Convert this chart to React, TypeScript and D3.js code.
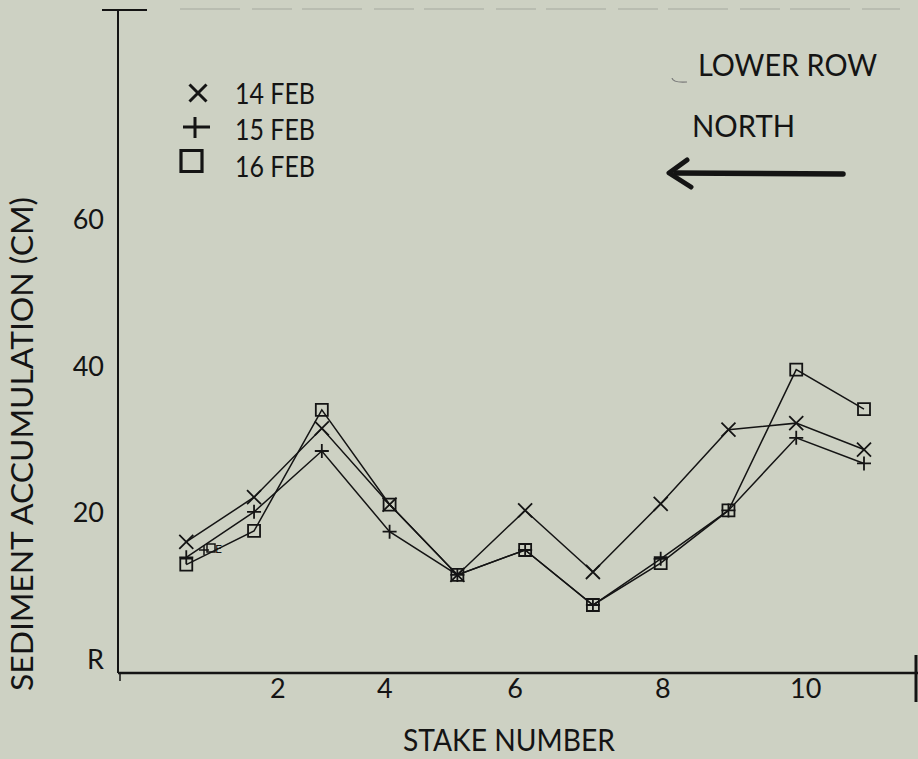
import React from "react";
import * as d3 from "d3";

const stakes = [1, 2, 3, 4, 5, 6, 7, 8, 9, 10, 11];
const feb14 = [16.1, 22.2, 31.6, 21.2, 11.6, 20.4, 12.0, 21.3, 31.4, 32.3, 28.7];
const feb15 = [14.0, 20.2, 28.5, 17.5, 11.6, 15.0, 7.5, 13.8, 20.4, 30.3, 26.8];
const feb16 = [13.0, 17.6, 34.1, 21.2, 11.6, 15.0, 7.5, 13.2, 20.4, 39.6, 34.2];

const xTickLabels = ["2", "4", "6", "8", "10"];
const xTickPositions = [2.35, 3.93, 5.85, 8.03, 10.14];
const yTickValues = [0, 20, 40, 60];
const yTickLabels = ["R", "20", "40", "60"];

const legendLabels = ["14 FEB", "15 FEB", "16 FEB"];
const markerKinds = ["x", "plus", "square"];

const W = 918;
const H = 759;
const BG = "#cdd1c3";
const INK = "#141414";
const FONT = "Lato, 'Open Sans', sans-serif";

function markerPath(kind: string, s: number) {
  if (kind === "x") return `M${-s},${-s}L${s},${s}M${-s},${s}L${s},${-s}`;
  if (kind === "plus") return `M${-s},0L${s},0M0,${-s}L0,${s}`;
  return `M${-s},${-s}H${s}V${s}H${-s}Z`;
}

export default function App() {
  const x = d3.scaleLinear().domain([0, 11]).range([118.5, 864]);
  const y = d3.scaleLinear().domain([0, 60]).range([660, 220]);
  const series = [feb14, feb15, feb16];
  const line = d3
    .line<[number, number]>()
    .x((d) => x(d[0]))
    .y((d) => y(d[1]));

  const axisX = x(0) - 0.5;
  const axisY = 673;

  return (
    <svg
      width={W}
      height={H}
      viewBox={`0 0 ${W} ${H}`}
      style={{ position: "absolute", left: 0, top: 0, display: "block" }}
    >
      <rect x={0} y={0} width={W} height={H} fill={BG} />

      {/* faint scan marks along the top */}
      <line x1={180} x2={900} y1={9} y2={9} stroke="#b9bdb1" strokeWidth={2} strokeDasharray="60 12 40 10" />

      {/* axes */}
      <line x1={axisX} x2={axisX} y1={10} y2={axisY} stroke={INK} strokeWidth={2} />
      <line x1={102} x2={147} y1={10} y2={10} stroke={INK} strokeWidth={2} />
      <line x1={axisX} x2={W} y1={axisY} y2={axisY} stroke={INK} strokeWidth={2.5} />
      <line x1={916} x2={916} y1={655} y2={702} stroke={INK} strokeWidth={3} />
      <line x1={120} x2={120} y1={673} y2={681} stroke={INK} strokeWidth={1.5} />

      {/* y tick labels */}
      {yTickValues.map((v, i) => (
        <text
          key={"yt" + i}
          x={104}
          y={y(v) + 9}
          textAnchor="end"
          fontFamily={FONT}
          fontSize={27}
          fill={INK}
        >
          {yTickLabels[i]}
        </text>
      ))}

      {/* x tick labels */}
      {xTickPositions.map((p, i) => (
        <text
          key={"xt" + i}
          x={x(p)}
          y={698}
          textAnchor="middle"
          fontFamily={FONT}
          fontSize={27}
          fill={INK}
        >
          {xTickLabels[i]}
        </text>
      ))}

      {/* axis titles */}
      <text
        transform="translate(33,444) rotate(-90)"
        textAnchor="middle"
        fontFamily={FONT}
        fontSize={31}
        fill={INK}
        textLength={494}
        lengthAdjust="spacingAndGlyphs"
      >
        SEDIMENT ACCUMULATION (CM)
      </text>
      <text
        x={509}
        y={751}
        textAnchor="middle"
        fontFamily={FONT}
        fontSize={30}
        fill={INK}
        textLength={212}
        lengthAdjust="spacingAndGlyphs"
      >
        STAKE NUMBER
      </text>

      {/* data lines */}
      {series.map((vals, si) => (
        <path
          key={"l" + si}
          d={line(stakes.map((s, i) => [s, vals[i]] as [number, number])) || ""}
          fill="none"
          stroke={INK}
          strokeWidth={1.5}
        />
      ))}

      {/* data markers */}
      {series.map((vals, si) =>
        stakes.map((s, i) => (
          <path
            key={"m" + si + "-" + i}
            transform={`translate(${x(s)},${y(vals[i])})`}
            d={markerPath(markerKinds[si], markerKinds[si] === "square" ? 6 : 7)}
            fill="none"
            stroke={INK}
            strokeWidth={1.8}
          />
        ))
      )}

      {/* smudged overprint near stake 1 */}
      <path transform="translate(204,550)" d={markerPath("plus", 5)} fill="none" stroke={INK} strokeWidth={1.5} />
      <path transform="translate(211,548)" d={markerPath("square", 4)} fill="none" stroke={INK} strokeWidth={1.5} />
      <text x={215} y={553} fontFamily={FONT} fontSize={12} fill={INK}>E</text>

      {/* legend */}
      <path transform="translate(198,93)" d={markerPath("x", 8.5)} fill="none" stroke={INK} strokeWidth={3} />
      <path d="M183,127L210,127M195,117L195,138" fill="none" stroke={INK} strokeWidth={3} />
      <path transform="translate(191.5,161)" d={markerPath("square", 10.5)} fill="none" stroke={INK} strokeWidth={3.2} />
      {legendLabels.map((t, i) => (
        <text
          key={"lg" + i}
          x={235}
          y={[104, 140, 177][i]}
          fontFamily={FONT}
          fontSize={28}
          fill={INK}
          textLength={80}
          lengthAdjust="spacingAndGlyphs"
        >
          {t}
        </text>
      ))}

      {/* annotations */}
      <text x={698} y={76} fontFamily={FONT} fontSize={30} fill={INK} textLength={179} lengthAdjust="spacingAndGlyphs">
        LOWER ROW
      </text>
      <path d="M672,78Q673,83 687,82" fill="none" stroke="#777" strokeWidth={1.2} />
      <text x={692} y={137} fontFamily={FONT} fontSize={30} fill={INK} textLength={103} lengthAdjust="spacingAndGlyphs">
        NORTH
      </text>
      <line x1={676} x2={843} y1={173} y2={174} stroke={INK} strokeWidth={5.5} strokeLinecap="round" />
      <path d="M687,160L669,173L691,187" fill="none" stroke={INK} strokeWidth={5} strokeLinejoin="round" strokeLinecap="round" />
    </svg>
  );
}
